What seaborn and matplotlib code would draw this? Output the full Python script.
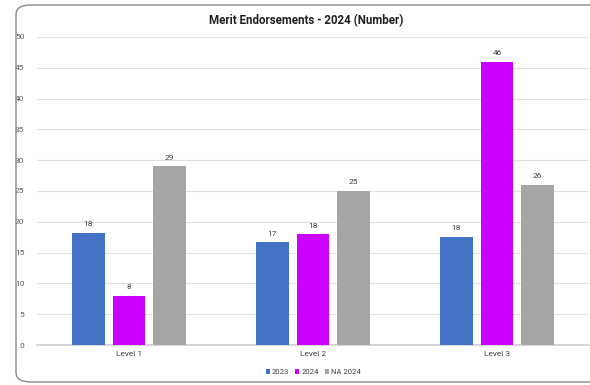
import matplotlib
matplotlib.use("Agg")
import matplotlib.pyplot as plt
import seaborn as sns
import pandas as pd
from matplotlib.patches import FancyBboxPatch

categories = ["Level 1", "Level 2", "Level 3"]
series = ["2023", "2024", "NA 2024"]
values_2023 = [18.2, 16.7, 17.6]
values_2024 = [8, 18, 46]
values_na2024 = [29, 25, 26]
colors = ["#4472C4", "#CC00FF", "#A5A5A5"]

rows = []
for s, vals in zip(series, [values_2023, values_2024, values_na2024]):
    for c, v in zip(categories, vals):
        rows.append({"Level": c, "Series": s, "Value": v})
df = pd.DataFrame(rows)

sns.set_theme(style="white")
plt.rcParams['font.family'] = ['Roboto', 'DejaVu Sans']

fig = plt.figure(figsize=(5.9, 3.85), dpi=100)
fig.patch.set_facecolor("white")

# card border
card = FancyBboxPatch((16 / 590, 3 / 385), 640 / 590, 377 / 385,
                      boxstyle="round,pad=0,rounding_size=0.025",
                      transform=fig.transFigure, facecolor="none",
                      edgecolor="#8a8a8a", linewidth=1.0, zorder=5)
fig.patches.append(card)

ax = fig.add_axes([37 / 590, 1 - 345 / 385, 552 / 590, 308 / 385])
ax.set_facecolor("none")
sns.barplot(data=df, x="Level", y="Value", hue="Series", palette=colors,
            width=0.66, gap=0.2, ax=ax, zorder=3, saturation=1, linewidth=0)

for cont in ax.containers:
    ax.bar_label(cont, fmt="%.0f", padding=4, fontsize=6, color="#404040")

ax.set_ylim(0, 50)
ax.set_yticks(range(0, 51, 5))
ax.yaxis.grid(True, color="#e0e0e0", linewidth=0.8, zorder=0)
ax.set_axisbelow(True)
for sp in ["top", "right", "left"]:
    ax.spines[sp].set_visible(False)
ax.spines["bottom"].set_color("#d0d0d0")
ax.tick_params(axis="y", labelsize=6, colors="#595959", length=0, pad=9)
ax.tick_params(axis="x", labelsize=6, colors="#404040", length=0, pad=4)
ax.set_xlabel("")
ax.set_ylabel("")

ax.text(0.487, 1.055, "Merit Endorsements - 2024 (Number)", transform=ax.transAxes,
        ha="center", va="center", fontsize=8.3, fontweight="bold", color="#202020")

leg = ax.legend(loc="center", bbox_to_anchor=(0.5, -0.088), ncol=3,
                frameon=False, fontsize=5.5, handlelength=0.55, handleheight=0.55,
                handletextpad=0.25, columnspacing=0.8)
for t in leg.get_texts():
    t.set_color("#404040")

fig.savefig("out.png", dpi=100, facecolor="white")
